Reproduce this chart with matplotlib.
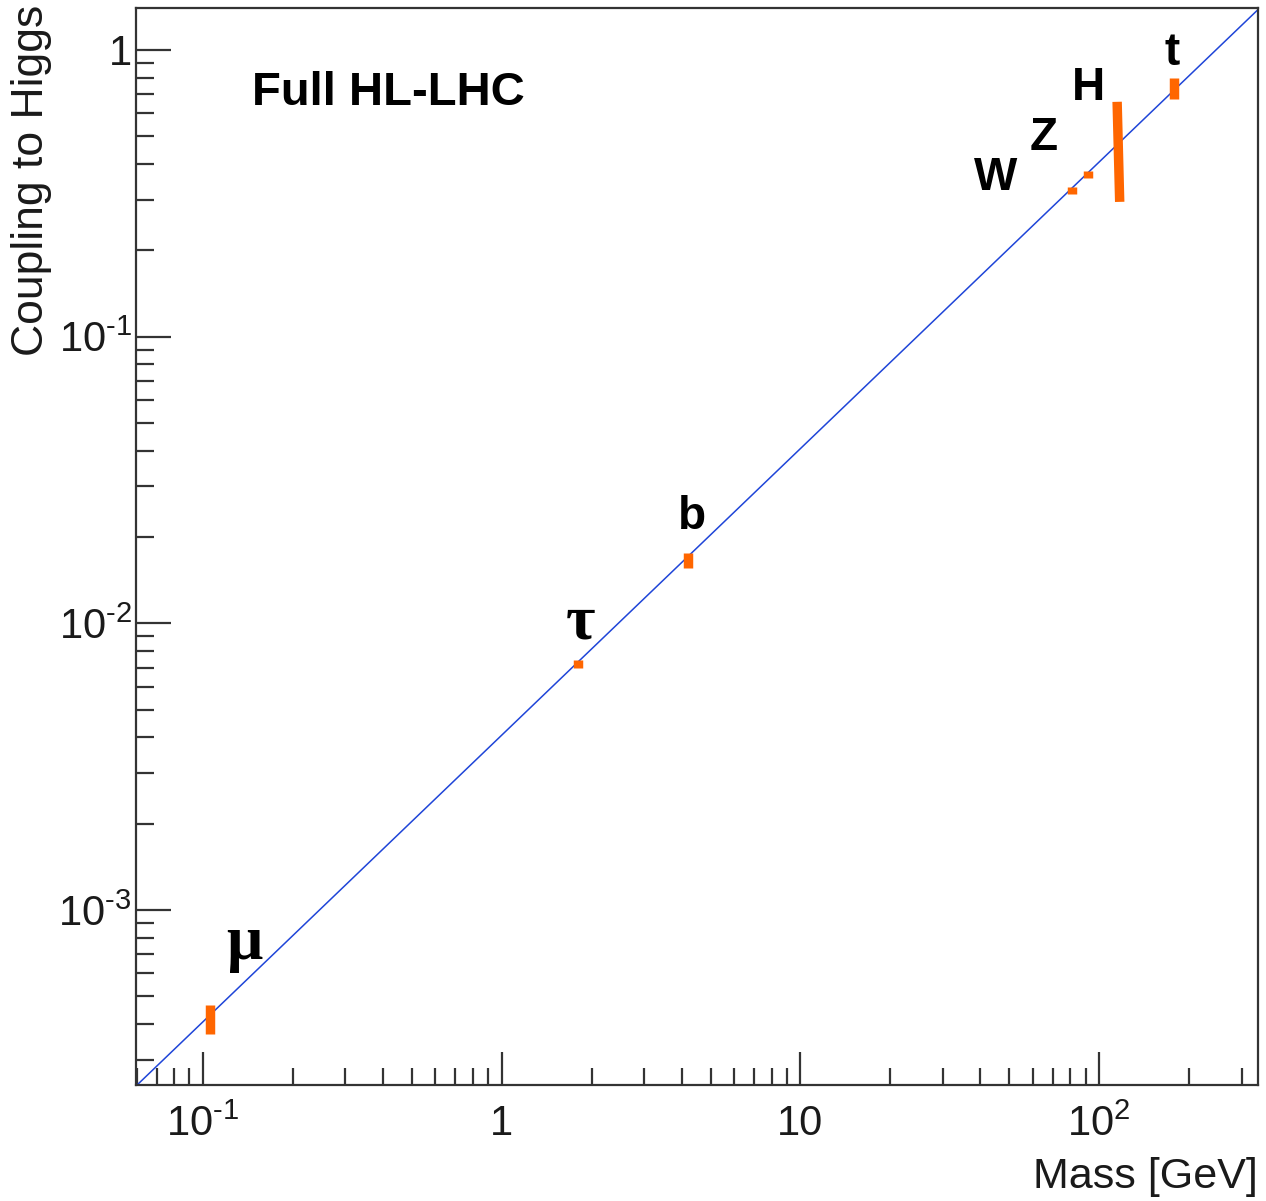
import numpy as np
import matplotlib
matplotlib.use("Agg")
import matplotlib.pyplot as plt
from matplotlib.ticker import FixedLocator, FuncFormatter, NullFormatter

plt.rcParams.update({
    "font.family": ["Liberation Sans", "DejaVu Sans"],
    "mathtext.fontset": "custom",
    "mathtext.rm": "Liberation Sans",
    "mathtext.it": "Liberation Sans",
    "mathtext.bf": "Liberation Sans:bold",
    "axes.unicode_minus": False,
})

ORANGE = "#ff6600"
BLUE = "#1f45d8"
AXC = "#333333"

# ---- data ----
names = ["\u03bc", "\u03c4", "b", "W", "Z", "H", "t"]
mass_lo = [0.1055, 1.80, 4.19, 81.2, 91.9, 117.1, 178]   # mass at lower end of bar
mass_hi = [0.1055, 1.80, 4.19, 81.2, 91.9, 114.8, 178]   # mass at upper end of bar
coup_lo = [3.70e-4, 6.97e-3, 0.01556, 0.315, 0.358, 0.295, 0.675]
coup_hi = [4.67e-4, 7.43e-3, 0.01754, 0.333, 0.379, 0.659, 0.800]

# label anchors (left, baseline) in data coords
lab_mass = [0.1194, 1.637, 3.88, 38.2, 58.3, 81.2, 165]
lab_coup = [6.75e-4, 8.87e-3, 0.0213, 0.325, 0.448, 0.669, 0.887]
greek = {"\u03bc", "\u03c4"}

# SM line: coupling = mass / v
line_mass = [0.0597, 340.0]
line_coup = [2.43e-4, 1.382]

xlim = (0.0597, 340.0)
ylim = (2.45e-4, 1.40)

fig = plt.figure(figsize=(12.66, 12.01), dpi=100)
ax = fig.add_axes([136/1266, 1 - 1085/1201, 1122/1266, 1077/1201])
ax.set_xscale("log"); ax.set_yscale("log")
ax.set_xlim(*xlim); ax.set_ylim(*ylim)

ax.plot(line_mass, line_coup, color=BLUE, lw=1.1, zorder=2)

for x0, x1, y0, y1 in zip(mass_lo, mass_hi, coup_lo, coup_hi):
    ax.plot([x0, x1], [y0, y1], color=ORANGE, lw=6.8,
            solid_capstyle="butt", zorder=3)

for n, x, y in zip(names, lab_mass, lab_coup):
    if n in greek:
        ax.text(x, y, n, fontsize=46, fontweight="bold", ha="left",
                va="baseline", color="black",
                family=["Liberation Serif", "DejaVu Serif"])
    else:
        ax.text(x, y, n, fontsize=33, fontweight="bold", ha="left",
                va="baseline", color="black")

ax.text(0.1034, 0.910, "Full HL-LHC", transform=ax.transAxes, fontsize=34,
        fontweight="bold", ha="left", va="baseline")

# ---- axes styling (ROOT-like) ----
for s in ax.spines.values():
    s.set_color(AXC); s.set_linewidth(1.6)

def fmt(v, _=None):
    e = int(round(np.log10(v)))
    if e == 0: return "1"
    if e == 1: return "10"
    if e < 0: return f"$10^{{\\text{{-}}{-e}}}$"
    return f"$10^{{{e}}}$"

ax.xaxis.set_major_locator(FixedLocator([0.1, 1, 10, 100]))
ax.yaxis.set_major_locator(FixedLocator([1e-3, 1e-2, 1e-1, 1]))
minors = [k * 10.0**d for d in range(-5, 3) for k in range(2, 10)]
ax.xaxis.set_minor_locator(FixedLocator(minors))
ax.yaxis.set_minor_locator(FixedLocator(minors))
ax.xaxis.set_major_formatter(FuncFormatter(fmt))
ax.yaxis.set_major_formatter(FuncFormatter(fmt))
ax.xaxis.set_minor_formatter(NullFormatter())
ax.yaxis.set_minor_formatter(NullFormatter())

ax.tick_params(which="both", direction="in", top=False, right=False,
               color=AXC, width=1.6, labelsize=30, labelcolor="#1a1a1a")
ax.tick_params(axis="x", which="major", length=24, pad=14)
ax.tick_params(axis="x", which="minor", length=12)
ax.tick_params(axis="y", which="major", length=25, pad=3)
ax.tick_params(axis="y", which="minor", length=13)

fig.text(32/1266, 1 - 5/1201, "Coupling to Higgs", rotation=90,
         ha="center", va="top", fontsize=32, color="#1a1a1a")
fig.text(1258/1266, 1 - 1188/1201, "Mass [GeV]", ha="right",
         va="baseline", fontsize=31, color="#1a1a1a")

fig.savefig("out.png", dpi=100)
